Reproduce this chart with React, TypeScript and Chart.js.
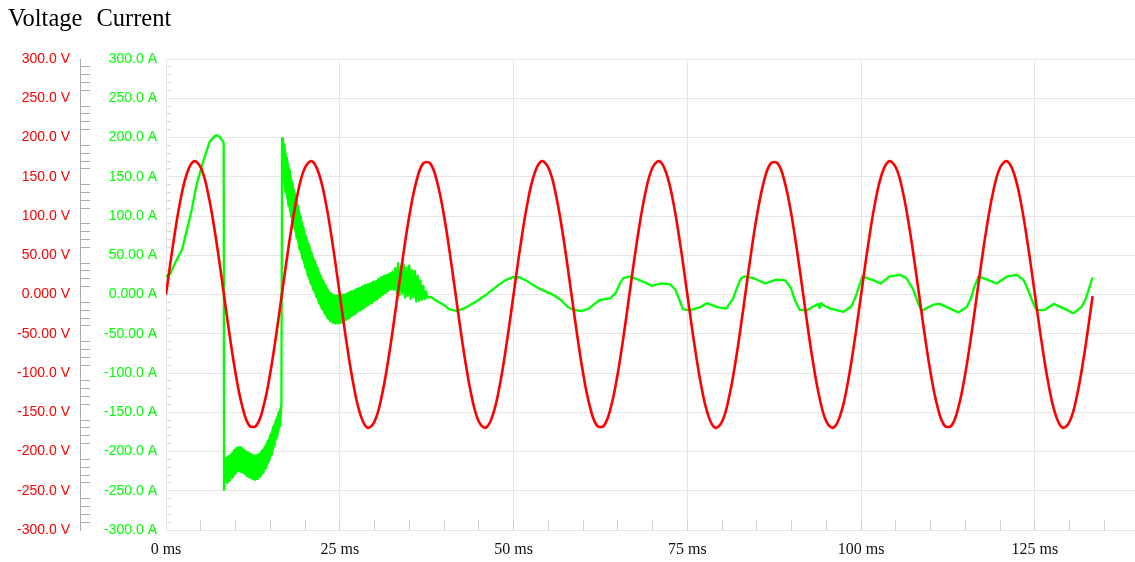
import React, { useEffect, useRef } from 'react';
import { Chart, registerables } from 'chart.js';

Chart.register(...registerables);

// ---- Data ----
const legendLabels = ['Voltage', 'Current'];

const voltTimeMs = [
  0, 1, 2, 3, 4, 5, 6, 7, 8, 9, 10, 11, 12, 13, 14, 15, 16, 17, 18, 19, 20, 21, 22, 23, 24,
  25, 26, 27, 28, 29, 30, 31, 32, 33, 34, 35, 36, 37, 38, 39, 40, 41, 42, 43, 44, 45, 46, 47, 48, 49,
  50, 51, 52, 53, 54, 55, 56, 57, 58, 59, 60, 61, 62, 63, 64, 65, 66, 67, 68, 69, 70, 71, 72, 73, 74,
  75, 76, 77, 78, 79, 80, 81, 82, 83, 84, 85, 86, 87, 88, 89, 90, 91, 92, 93, 94, 95, 96, 97, 98, 99,
  100, 101, 102, 103, 104, 105, 106, 107, 108, 109, 110, 111, 112, 113, 114, 115, 116, 117, 118, 119,
  120, 121, 122, 123, 124, 125, 126, 127, 128, 129, 130, 131, 132, 133, 133.3,
];

const voltValues = [
  0, 62.6, 116.4, 153.8, 169.7, 161.7, 131.0, 81.9, 21.3, -42.3, -99.9, -143.5, -167.0, -167.0, -143.5, -99.9, -42.3, 21.3, 81.9, 131.0, 161.7, 169.7, 153.8, 116.4, 62.6,
  0, -62.6, -116.4, -153.8, -169.7, -161.7, -131.0, -81.9, -21.3, 42.3, 99.9, 143.5, 167.0, 167.0, 143.5, 99.9, 42.3, -21.3, -81.9, -131.0, -161.7, -169.7, -153.8, -116.4, -62.6,
  0, 62.6, 116.4, 153.8, 169.7, 161.7, 131.0, 81.9, 21.3, -42.3, -99.9, -143.5, -167.0, -167.0, -143.5, -99.9, -42.3, 21.3, 81.9, 131.0, 161.7, 169.7, 153.8, 116.4, 62.6,
  0, -62.6, -116.4, -153.8, -169.7, -161.7, -131.0, -81.9, -21.3, 42.3, 99.9, 143.5, 167.0, 167.0, 143.5, 99.9, 42.3, -21.3, -81.9, -131.0, -161.7, -169.7, -153.8, -116.4, -62.6,
  0, 62.6, 116.4, 153.8, 169.7, 161.7, 131.0, 81.9, 21.3, -42.3, -99.9, -143.5, -167.0, -167.0, -143.5, -99.9, -42.3, 21.3, 81.9, 131.0,
  161.7, 169.7, 153.8, 116.4, 62.6, 0, -62.6, -116.4, -153.8, -169.7, -161.7, -131.0, -81.9, -21.3, -2,
];

// current: [time ms, amps]
const currentRise: [number, number][] = [
  [0, 23], [0.6, 26], [1.3, 40], [2.3, 57], [3.0, 82], [3.7, 108], [4.4, 140], [5.4, 171],
  [6.3, 195], [7.2, 203], [7.7, 201], [8.1, 196], [8.3, 193], [8.35, -249],
];

// ringing band while current is negative (fast oscillation between upper and lower edge)
const currentBand1: [number, number][] = [
  [8.6, -208], [8.8, -240], [9.0, -206], [9.2, -237], [9.4, -203], [9.6, -233], [9.8, -198], [10.0, -228],
  [10.2, -195], [10.4, -225], [10.6, -194], [10.8, -226], [11.0, -196], [11.2, -228], [11.4, -199], [11.6, -231],
  [11.8, -201], [12.0, -233], [12.2, -203], [12.4, -235], [12.6, -205], [12.8, -236], [13.0, -205], [13.2, -235],
  [13.4, -203], [13.6, -232], [13.8, -199], [14.0, -227], [14.2, -194], [14.4, -221], [14.6, -187], [14.8, -213],
  [15.0, -179], [15.2, -204], [15.4, -169], [15.6, -193], [15.8, -160], [16.0, -181], [16.2, -150], [16.4, -168],
  [16.6, -140],
];

// ringing band after the positive jump, decaying
const currentBand2: [number, number][] = [
  [16.7, 199], [16.8, 149], [17.0, 192], [17.2, 130], [17.4, 174], [17.6, 114], [17.8, 158], [18.0, 99],
  [18.2, 142], [18.4, 85], [18.6, 128], [18.8, 72], [19.0, 113], [19.2, 58], [19.4, 99], [19.6, 46],
  [19.8, 85], [20.0, 35], [20.2, 73], [20.4, 24], [20.6, 63], [20.8, 14], [21.0, 52], [21.2, 6],
  [21.4, 43], [21.6, -3], [21.8, 34], [22.0, -11], [22.2, 25], [22.4, -18], [22.6, 18], [22.8, -24],
  [23.0, 11], [23.2, -30], [23.4, 5], [23.6, -34], [23.8, 1], [24.0, -36], [24.2, -1], [24.4, -37],
  [24.6, -1], [24.8, -37], [25.0, -1], [25.2, -36], [25.4, 0], [25.6, -35], [25.8, 0], [26.0, -32],
  [26.2, 2], [26.4, -30], [26.6, 4], [26.8, -27], [27.0, 5], [27.2, -25], [27.4, 7], [27.6, -22],
  [27.8, 8], [28.0, -20], [28.2, 10], [28.4, -18], [28.6, 12], [28.8, -15], [29.0, 13], [29.2, -13],
  [29.4, 14], [29.6, -11], [29.8, 16], [30.0, -8], [30.2, 17], [30.4, -6], [30.6, 20], [30.8, -3],
  [31.0, 22], [31.2, 0], [31.4, 24], [31.6, 2], [31.8, 25], [32.0, 5], [32.2, 27], [32.4, 7],
  [32.6, 29], [32.8, 6], [33.0, 34], [33.2, 2], [33.4, 40], [33.6, -1], [33.8, 36], [34.0, 1],
  [34.2, 38], [34.4, -4], [34.6, 34], [34.8, -2], [35.0, 37], [35.2, -6], [35.4, 31], [35.6, -4],
  [35.8, 30], [36.0, -9], [36.2, 24], [36.4, -8], [36.6, 18], [36.8, -7], [37.0, 11], [37.2, -6],
  [37.4, 4], [37.6, -4],
];

const currentSteady: [number, number][] = [
  [38.1, -3], [38.9, -8], [39.9, -13], [40.8, -19], [41.8, -21], [42.8, -18], [43.8, -13], [44.8, -8],
  [45.8, -2], [46.8, 5], [47.8, 12], [48.8, 18], [49.8, 22], [50.8, 22], [51.8, 18], [52.8, 12],
  [53.8, 7], [54.8, 3], [55.8, -1], [56.8, -7], [57.8, -16], [58.8, -20], [59.8, -21], [60.8, -18],
  [61.8, -11], [62.4, -7], [63.2, -6], [63.9, -5], [64.7, 2], [65.3, 14], [65.8, 21], [66.8, 23],
  [68.2, 18], [69.2, 14], [69.9, 11], [71.1, 14], [72.5, 13], [73.3, 6], [73.9, -8], [74.4, -19],
  [75.4, -20], [76.9, -16], [77.8, -11], [79.3, -16], [80.6, -18], [81.6, -5], [82.2, 10], [82.7, 20],
  [83.2, 23], [84.5, 21], [86.2, 14], [87.8, 19], [89.1, 18], [89.9, 8], [90.5, -8], [91.2, -20],
  [92.2, -20], [93.2, -15], [93.8, -12], [94.0, -17], [94.2, -11], [94.6, -14], [95.6, -18], [97.5, -22],
  [98.6, -15], [99.2, -3], [99.8, 13], [100.2, 23], [101.8, 18], [102.8, 14], [104.1, 23], [105.6, 25],
  [106.5, 21], [107.5, 6], [108.2, -11], [108.7, -21], [109.5, -17], [110.4, -13], [111.3, -12], [112.8, -18],
  [114.0, -23], [115.2, -16], [115.8, -5], [116.3, 10], [116.9, 23], [118.1, 19], [119.5, 14], [121.0, 23],
  [122.4, 25], [123.4, 18], [124.0, 6], [124.4, -3], [124.9, -14], [125.3, -20], [126.3, -20], [127.7, -12],
  [129.2, -18], [130.5, -24], [131.7, -16], [132.3, -6], [132.8, 8], [133.3, 22],
];

// time up to which the ringing is dense enough to look like a solid band
const solidBandEndMs = 32.8;

// axis settings
const yRange = [-300, 300];
const yMinorStep = 10;
const yMajorStep = 50;
const xRange = [0, 139.4];
const xMinorStep = 5;
const xMajorStep = 25;

const RED = '#ff0000';
const GREEN = '#00ff00';
const GRID = '#e6e6e6';

const isMult = (v: number, step: number) => {
  const r = Math.abs(v % step);
  return r < 1e-6 || Math.abs(r - step) < 1e-6;
};

// split a zig-zag list of points into its upper and lower edges
const splitBand = (pts: [number, number][]) => {
  const up: { x: number; y: number }[] = [];
  const lo: { x: number; y: number }[] = [];
  pts.forEach((p, i) => {
    const prev = pts[i - 1] ?? pts[i + 1];
    const next = pts[i + 1] ?? pts[i - 1];
    (p[1] > (prev[1] + next[1]) / 2 ? up : lo).push({ x: p[0], y: p[1] });
  });
  return [up, lo];
};

export default function App() {
  const ref = useRef<HTMLCanvasElement | null>(null);

  useEffect(() => {
    const canvas = ref.current;
    if (!canvas) return;
    const voltPts = voltTimeMs.map((x, i) => ({ x, y: voltValues[i] }));
    const currentPts = [...currentRise, ...currentBand1, ...currentBand2, ...currentSteady].map(
      ([x, y]) => ({ x, y })
    );
    const [b1Up, b1Lo] = splitBand(currentBand1);
    const [b2Up, b2Lo] = splitBand(currentBand2.filter((p) => p[0] <= solidBandEndMs));

    const sans = '"Liberation Sans", Arial, sans-serif';
    const serif = '"Liberation Serif", "Times New Roman", serif';

    const bandDs = (data: any[], fill: any) => ({
      label: '',
      data,
      borderColor: GREEN,
      backgroundColor: GREEN,
      borderWidth: 1,
      pointRadius: 0,
      tension: 0,
      fill,
      yAxisID: 'yA',
    });

    const chart = new Chart(canvas, {
      type: 'line',
      data: {
        datasets: [
          {
            label: legendLabels[0],
            data: voltPts,
            borderColor: RED,
            backgroundColor: RED,
            borderWidth: 2.6,
            pointRadius: 0,
            tension: 0.4,
            fill: false,
            yAxisID: 'yV',
          },
          {
            label: legendLabels[1],
            data: currentPts,
            borderColor: GREEN,
            backgroundColor: GREEN,
            borderWidth: 2.3,
            pointRadius: 0,
            tension: 0,
            fill: false,
            borderJoinStyle: 'round',
            yAxisID: 'yA',
          },
          bandDs(b1Up, false),
          bandDs(b1Lo, '-1'),
          bandDs(b2Up, false),
          bandDs(b2Lo, '-1'),
        ],
      },
      options: {
        responsive: false,
        animation: false,
        devicePixelRatio: 1,
        layout: { padding: { top: 59, left: 0, right: 0, bottom: 0 } },
        plugins: { legend: { display: false }, tooltip: { enabled: false } },
        scales: {
          x: {
            type: 'linear',
            min: xRange[0],
            max: xRange[1],
            bounds: 'data',
            afterFit: (s: any) => {
              s.height = 32;
            },
            border: { display: true, color: GRID, width: 1 },
            grid: {
              drawOnChartArea: true,
              drawTicks: true,
              tickLength: -10,
              color: (c: any) => (isMult(c.tick?.value ?? 1, xMajorStep) ? GRID : 'rgba(0,0,0,0)'),
              tickColor: '#d0d0d0',
              lineWidth: 1,
            },
            ticks: {
              stepSize: xMinorStep,
              autoSkip: false,
              includeBounds: false,
              maxRotation: 0,
              padding: 20,
              color: '#111',
              font: { family: serif, size: 16 },
              callback: (v: any) => (isMult(Number(v), xMajorStep) ? `${Number(v)} ms` : ''),
            },
          },
          yV: {
            type: 'linear',
            position: 'left',
            weight: 2,
            min: yRange[0],
            max: yRange[1],
            afterFit: (s: any) => {
              s.width = 80;
            },
            border: { display: true, color: '#ababab', width: 1 },
            grid: {
              drawOnChartArea: false,
              drawTicks: true,
              tickLength: -10,
              tickColor: (c: any) => (isMult(c.tick?.value ?? 0, yMajorStep) ? 'rgba(0,0,0,0)' : '#ababab'),
            },
            ticks: {
              stepSize: yMinorStep,
              maxTicksLimit: 1000,
              autoSkip: false,
              padding: 20,
              color: RED,
              font: { family: sans, size: 14 },
              callback: (v: any) =>
                isMult(Number(v), yMajorStep) ? `${Number(v).toPrecision(4)} V` : '',
            },
          },
          yA: {
            type: 'linear',
            position: 'left',
            weight: 1,
            min: yRange[0],
            max: yRange[1],
            afterFit: (s: any) => {
              s.width = 86;
            },
            border: { display: true, color: GRID, width: 1 },
            grid: {
              drawOnChartArea: true,
              drawTicks: true,
              tickLength: -5,
              color: (c: any) => (isMult(c.tick?.value ?? 1, yMajorStep) ? GRID : 'rgba(0,0,0,0)'),
              tickColor: (c: any) => (isMult(c.tick?.value ?? 0, yMajorStep) ? 'rgba(0,0,0,0)' : '#d6d6d6'),
            },
            ticks: {
              stepSize: yMinorStep,
              maxTicksLimit: 1000,
              autoSkip: false,
              padding: 14,
              color: GREEN,
              font: { family: sans, size: 14 },
              callback: (v: any) =>
                isMult(Number(v), yMajorStep) ? `${Number(v).toPrecision(4)} A` : '',
            },
          },
        },
      },
    } as any);
    return () => chart.destroy();
  }, []);

  return (
    <div style={{ position: 'absolute', left: 0, top: 0, width: 1135, height: 562, background: '#fff' }}>
      <canvas ref={ref} width={1135} height={562} style={{ position: 'absolute', left: 0, top: 0, width: 1135, height: 562 }} />
      <div
        style={{
          position: 'absolute',
          left: 8,
          top: 4,
          fontFamily: '"Liberation Serif", "Times New Roman", serif',
          fontSize: 24.5,
          lineHeight: 'normal',
          color: '#000',
          whiteSpace: 'nowrap',
        }}
      >
        <span style={{ marginRight: 14 }}>{legendLabels[0]}</span>
        <span>{legendLabels[1]}</span>
      </div>
    </div>
  );
}
